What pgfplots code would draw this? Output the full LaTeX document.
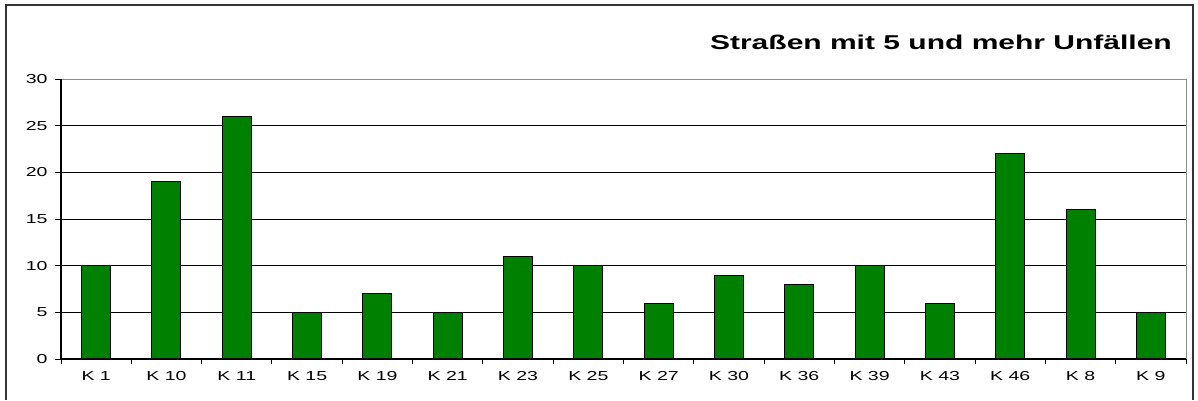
\documentclass[border=0pt]{standalone}
\usepackage{fontspec}
\setmainfont[FakeStretch=1.5]{Liberation Sans}
\usepackage{pgfplots}
\pgfplotsset{compat=1.18}
\definecolor{bargreen}{HTML}{008000}
\begin{document}
\begin{tikzpicture}[x=1pt,y=1pt]
\useasboundingbox (0,0) rectangle (1198,400);
\draw[line width=1.5pt,color=black!80] (6,0) -- (6,395) -- (1193,395) -- (1193,0);
\begin{axis}[
  at={(61pt,41pt)}, anchor=south west,
  scale only axis, width=1125pt, height=280pt,
  xmin=-0.5, xmax=15.5, ymin=0, ymax=30,
  ytick={0,5,...,30},
  xtick={0,...,15},
  xticklabels={K 1,K 10,K 11,K 15,K 19,K 21,K 23,K 25,K 27,K 30,K 36,K 39,K 43,K 46,K 8,K 9},
  tick pos=left,
  xtick style={draw=none},
  extra x ticks={-0.5,0.5,...,15.5},
  extra x tick labels={},
  extra x tick style={xtick style={draw=black,line width=1pt}, major tick length=5pt, tick align=outside, grid=none, tick pos=left},
  ytick style={draw=black,line width=1pt}, major tick length=6pt, tick align=outside,
  ymajorgrids, grid style={black, line width=0.8pt},
  axis line style={color=black!45, line width=1pt},
  tick label style={font=\fontsize{13}{15}\selectfont},
  /pgf/number format/assume math mode=true,
  xticklabel style={yshift=-3pt},
  yticklabel style={xshift=-4pt},
  clip=false,
]
\addplot[ybar, bar width=29pt, fill=bargreen, draw=black, line width=1pt] coordinates {
(0,10) (1,19) (2,26) (3,5) (4,7) (5,5) (6,11) (7,10) (8,6) (9,9) (10,8) (11,10) (12,6) (13,22) (14,16) (15,5)};
\draw[black, line width=1.6pt] (rel axis cs:0,1) -- (rel axis cs:0,0) -- (rel axis cs:1,0);
\end{axis}
\node[anchor=east, font=\fontsize{20}{22}\selectfont\bfseries, inner sep=0pt] at (1172,358) {Straßen mit 5 und mehr Unfällen};
\end{tikzpicture}
\end{document}
